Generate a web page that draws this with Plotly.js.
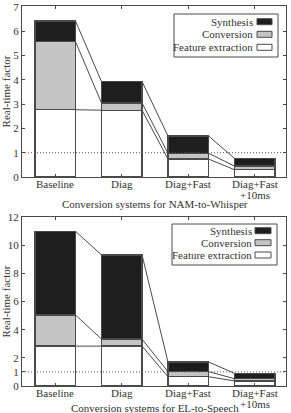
<!DOCTYPE html>
<html>
<head>
<meta charset="utf-8">
<script src="https://cdn.plot.ly/plotly-3.0.1.min.js"></script>
<style>
  html, body { margin: 0; padding: 0; background: #fff; }
  #chart { width: 291px; height: 413px; }
</style>
</head>
<body>
<div id="chart"></div>
<script>
// Conversion systems compared in both panels (each entry: lines of the label)
const systems = [['Baseline'], ['Diag'], ['Diag+Fast'], ['Diag+Fast', '+10ms']];
const stages = ['Synthesis', 'Conversion', 'Feature extraction'];

// Real-time factor per processing stage, NAM-to-Whisper
const namFeature    = [2.77, 2.75, 0.74, 0.30];
const namConversion = [2.80, 0.30, 0.24, 0.15];
const namSynthesis  = [0.85, 0.88, 0.71, 0.32];

// Real-time factor per processing stage, EL-to-Speech
const elFeature    = [2.83, 2.83, 0.66, 0.36];
const elConversion = [2.21, 0.50, 0.36, 0.16];
const elSynthesis  = [5.94, 5.98, 0.69, 0.38];

const panelTitles = ['Conversion systems for NAM-to-Whisper', 'Conversion systems for EL-to-Speech'];
const yTitle = 'Real-time factor';
const yTicksTop = [0, 1, 2, 3, 4, 5, 6, 7];
const yTicksBottom = [0, 1, 2, 4, 6, 8, 10, 12];

const FONT = 'Liberation Serif, Times New Roman, Times, serif';
const INK = '#333';
const EDGE = '#4a4a4a';
const fills = { 'Feature extraction': '#ffffff', 'Conversion': '#c4c4c4', 'Synthesis': '#1e1e1e' };
const BAR_W = 0.61;

const xIdx = systems.map((_, i) => i);
const traces = [];

function addPanel(feature, conversion, synthesis, xa, ya) {
  const series = [
    ['Feature extraction', feature],
    ['Conversion', conversion],
    ['Synthesis', synthesis]
  ];
  series.forEach(([name, vals]) => {
    traces.push({
      type: 'bar', x: xIdx, y: vals, name: name, width: BAR_W,
      xaxis: xa, yaxis: ya, showlegend: false, hoverinfo: 'skip',
      marker: { color: fills[name], line: { color: EDGE, width: 1.3 } }
    });
  });
  // connectors between the tops of each stacked level of neighbouring bars
  const levels = [
    feature,
    feature.map((v, i) => v + conversion[i]),
    feature.map((v, i) => v + conversion[i] + synthesis[i])
  ];
  levels.forEach(lv => {
    const xs = [], ys = [];
    for (let i = 0; i < lv.length - 1; i++) {
      xs.push(i + BAR_W / 2, i + 1 - BAR_W / 2, null);
      ys.push(lv[i], lv[i + 1], null);
    }
    traces.push({
      type: 'scatter', mode: 'lines', x: xs, y: ys, xaxis: xa, yaxis: ya,
      showlegend: false, hoverinfo: 'skip',
      line: { color: EDGE, width: 1 }
    });
  });
}

addPanel(namFeature, namConversion, namSynthesis, 'x', 'y');
addPanel(elFeature, elConversion, elSynthesis, 'x2', 'y2');

// pixel -> paper helpers for the plot area (margins l=22, r=5, t=6, b=27)
const L = 22, R = 5, T = 6, B = 27, W = 291, H = 413;
const pw = W - L - R, ph = H - T - B;
const px = v => (v - L) / pw;
const py = v => (H - B - v) / ph;

const shapes = [];
const annotations = [];
const txtFont = { family: FONT, size: 11, color: INK };

// reference line at real-time factor 1
[['x', 'y'], ['x2', 'y2']].forEach(([xa, ya]) => {
  shapes.push({
    type: 'line', xref: xa + ' domain', yref: ya, x0: 0, x1: 1, y0: 1, y1: 1,
    line: { color: '#555', width: 1, dash: '1px,2px' }
  });
});

// legends: right-aligned labels with swatches on the right
function addLegend(box, rows, swX0, swX1, textRight) {
  shapes.push({
    type: 'rect', xref: 'paper', yref: 'paper',
    x0: px(box[0]), x1: px(box[1]), y0: py(box[3]), y1: py(box[2]),
    line: { color: EDGE, width: 1 }, fillcolor: '#fff'
  });
  stages.forEach((name, k) => {
    const yc = rows[k];
    shapes.push({
      type: 'rect', xref: 'paper', yref: 'paper',
      x0: px(swX0), x1: px(swX1), y0: py(yc + 3), y1: py(yc - 3),
      line: { color: EDGE, width: 1 }, fillcolor: fills[name]
    });
    annotations.push({
      xref: 'paper', yref: 'paper', x: px(textRight), y: py(yc),
      xanchor: 'right', yanchor: 'middle', showarrow: false,
      text: name, font: txtFont
    });
  });
}
addLegend([174, 278, 14, 57], [21.7, 34.3, 47.3], 257, 272, 254.5);
addLegend([172, 277, 224, 265], [230.7, 242.7, 255], 255, 271, 253.5);

// category labels under each panel, tight line spacing
function addCategoryLabels(xa, firstLineY) {
  systems.forEach((lines, i) => {
    lines.forEach((ln, j) => {
      annotations.push({
        xref: xa, yref: 'paper', x: i, y: py(firstLineY + j * 10.5),
        xanchor: 'center', yanchor: 'middle', showarrow: false,
        text: ln, font: txtFont
      });
    });
  });
}
addCategoryLabels('x', 184);
addCategoryLabels('x2', 393);

// x-axis titles under each panel
[[panelTitles[0], 203.5], [panelTitles[1], 408.5]].forEach(([txt, yc]) => {
  annotations.push({
    xref: 'paper', yref: 'paper', x: px(155), y: py(yc),
    xanchor: 'center', yanchor: 'middle', showarrow: false,
    text: txt, font: txtFont
  });
});

const axisCommon = {
  showline: true, mirror: 'ticks', linecolor: EDGE, linewidth: 1,
  ticks: 'inside', ticklen: 3, tickcolor: EDGE, showgrid: false, zeroline: false,
  tickfont: txtFont, ticklabeloverflow: 'allow'
};

const layout = {
  width: W, height: H,
  margin: { l: L, r: R, t: T, b: B },
  paper_bgcolor: '#fff', plot_bgcolor: '#fff',
  barmode: 'stack', bargap: 0,
  showlegend: false,
  font: txtFont,
  xaxis: Object.assign({}, axisCommon, {
    domain: [0, 1], anchor: 'y', range: [-0.5, 3.47],
    tickvals: xIdx, showticklabels: false
  }),
  yaxis: Object.assign({}, axisCommon, {
    domain: [py(177), 1], anchor: 'x', range: [0, 7.04], tickvals: yTicksTop,
    title: { text: yTitle, font: txtFont, standoff: 4 }
  }),
  xaxis2: Object.assign({}, axisCommon, {
    domain: [0, 1], anchor: 'y2', range: [-0.5, 3.47],
    tickvals: xIdx, showticklabels: false
  }),
  yaxis2: Object.assign({}, axisCommon, {
    domain: [0, py(217)], anchor: 'x2', range: [0, 12.0001], tickvals: yTicksBottom,
    title: { text: yTitle, font: txtFont, standoff: 4 }
  }),
  shapes: shapes,
  annotations: annotations
};

Plotly.newPlot('chart', traces, layout, { displayModeBar: false, staticPlot: true });
</script>
</body>
</html>
